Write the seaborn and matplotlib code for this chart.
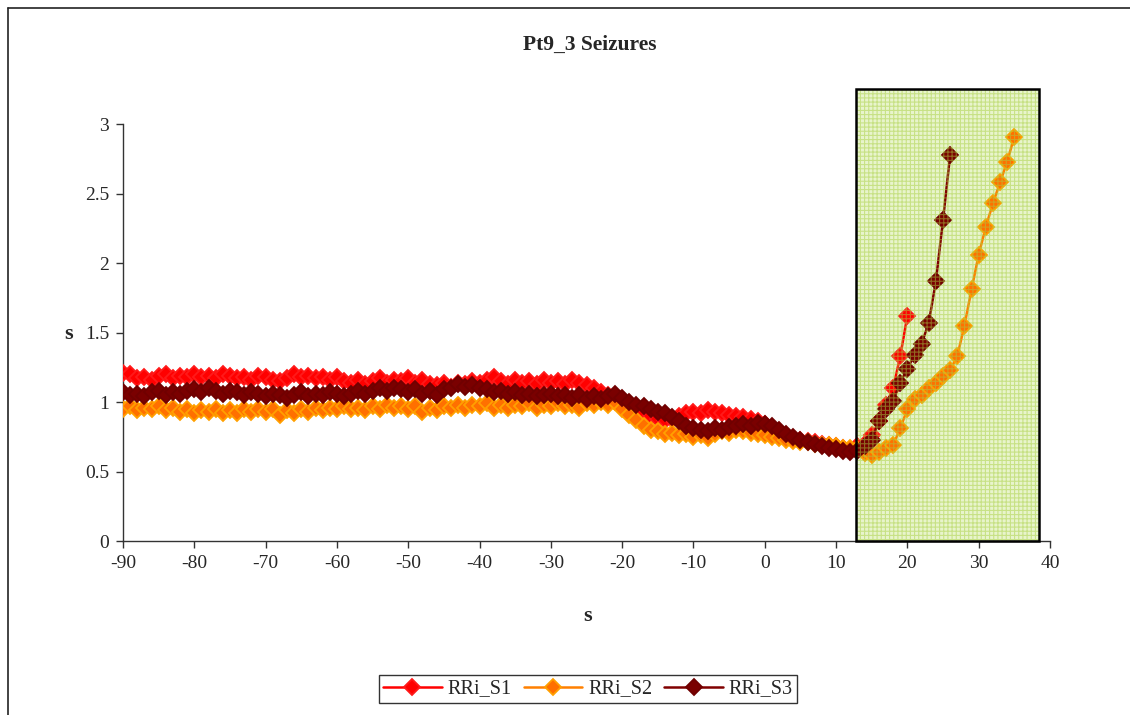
import numpy as np
import pandas as pd
import matplotlib
matplotlib.use("Agg")
import matplotlib.pyplot as plt
import seaborn as sns
from matplotlib.patches import Rectangle
from matplotlib.lines import Line2D

# ---------------- data ----------------
x_s1 = list(range(-90, 21))
rri_s1 = [
    1.21, 1.20, 1.17, 1.18, 1.16, 1.19, 1.20, 1.17, 1.19, 1.18,
    1.20, 1.18, 1.19, 1.17, 1.20, 1.19, 1.17, 1.18, 1.16, 1.19,
    1.18, 1.16, 1.15, 1.17, 1.20, 1.18, 1.19, 1.17, 1.18, 1.16,
    1.18, 1.15, 1.14, 1.16, 1.13, 1.15, 1.17, 1.14, 1.16, 1.15,
    1.17, 1.14, 1.16, 1.13, 1.12, 1.14, 1.11, 1.14, 1.13, 1.15,
    1.14, 1.16, 1.18, 1.15, 1.13, 1.16, 1.14, 1.15, 1.13, 1.16,
    1.14, 1.15, 1.13, 1.16, 1.14, 1.12, 1.10, 1.07, 1.05, 1.03,
    1.00, 0.97, 0.95, 0.92, 0.90, 0.88, 0.87, 0.88, 0.90, 0.92,
    0.93, 0.92, 0.94, 0.93, 0.92, 0.91, 0.90, 0.89, 0.88, 0.86,
    0.84, 0.81, 0.78, 0.76, 0.74, 0.73, 0.72, 0.71, 0.70, 0.69,
    0.68, 0.67, 0.66, 0.68, 0.70, 0.76, 0.86, 0.98, 1.10, 1.33, 1.62,
]

x_s2 = list(range(-90, 36))
rri_s2 = [
    0.95, 0.97, 0.94, 0.96, 0.95, 0.97, 0.94, 0.96, 0.93, 0.95,
    0.92, 0.94, 0.93, 0.95, 0.92, 0.94, 0.92, 0.95, 0.93, 0.95,
    0.93, 0.95, 0.91, 0.94, 0.92, 0.95, 0.93, 0.96, 0.94, 0.96,
    0.95, 0.97, 0.95, 0.96, 0.94, 0.97, 0.95, 0.98, 0.96, 0.97,
    0.95, 0.97, 0.93, 0.96, 0.94, 0.97, 0.96, 0.98, 0.96, 0.98,
    0.97, 0.99, 0.96, 0.98, 0.96, 0.98, 0.97, 0.99, 0.96, 0.98,
    0.97, 0.99, 0.97, 0.98, 0.96, 0.99, 0.98, 1.00, 0.98, 1.00,
    0.95, 0.91, 0.87, 0.83, 0.80, 0.79, 0.77, 0.78, 0.76, 0.77,
    0.75, 0.76, 0.74, 0.77, 0.79, 0.78, 0.80, 0.79, 0.78, 0.77,
    0.76, 0.75, 0.74, 0.73, 0.72, 0.71, 0.71, 0.70, 0.69, 0.69,
    0.68, 0.67, 0.67, 0.66, 0.63, 0.62, 0.64, 0.67, 0.69, 0.81,
    0.95, 1.02, 1.05, 1.10, 1.14, 1.19, 1.23, 1.33, 1.55, 1.81,
    2.06, 2.26, 2.43, 2.58, 2.73, 2.91,
]

x_s3 = list(range(-90, 27))
rri_s3 = [
    1.07, 1.05, 1.06, 1.04, 1.07, 1.08, 1.05, 1.07, 1.06, 1.08,
    1.09, 1.07, 1.10, 1.08, 1.06, 1.08, 1.07, 1.05, 1.07, 1.06,
    1.04, 1.06, 1.05, 1.03, 1.05, 1.07, 1.04, 1.06, 1.05, 1.07,
    1.06, 1.04, 1.06, 1.08, 1.06, 1.08, 1.10, 1.08, 1.10, 1.09,
    1.07, 1.09, 1.06, 1.08, 1.05, 1.09, 1.10, 1.13, 1.11, 1.12,
    1.10, 1.09, 1.07, 1.08, 1.06, 1.07, 1.05, 1.06, 1.04, 1.05,
    1.06, 1.04, 1.05, 1.03, 1.05, 1.02, 1.04, 1.02, 1.04, 1.06,
    1.03, 1.00, 0.98, 0.97, 0.95, 0.93, 0.92, 0.89, 0.86, 0.83,
    0.81, 0.80, 0.79, 0.81, 0.80, 0.82, 0.83, 0.84, 0.83, 0.85,
    0.84, 0.83, 0.80, 0.77, 0.75, 0.73, 0.71, 0.70, 0.68, 0.67,
    0.66, 0.65, 0.64, 0.65, 0.68, 0.73, 0.86, 0.95, 1.01, 1.14,
    1.24, 1.34, 1.42, 1.57, 1.87, 2.31, 2.78,
]

series_names = ["RRi_S1", "RRi_S2", "RRi_S3"]
x_ticks = [-90, -80, -70, -60, -50, -40, -30, -20, -10, 0, 10, 20, 30, 40]
y_ticks = [0, 0.5, 1, 1.5, 2, 2.5, 3]
y_tick_labels = ["0", "0.5", "1", "1.5", "2", "2.5", "3"]
title = "Pt9_3 Seizures"
x_label = "s"
y_label = "s"
highlight_x = (12.8, 38.4)
highlight_y_top = 3.25

# ---------------- styling ----------------
sns.set_style("white")
plt.rcParams["font.family"] = ["Liberation Serif", "DejaVu Serif"]
plt.rcParams["hatch.linewidth"] = 0.8

line_colors = ["#ff0000", "#ff8000", "#800000"]
face_colors = ["#ff0000", "#ff7000", "#7a0000"]
edge_colors = ["#ff1a1a", "#ffa000", "#700000"]

fig = plt.figure(figsize=(11.3, 7.15), dpi=100)
ax = fig.add_axes([123 / 1130, 1 - 541 / 715, (1050 - 123) / 1130, (541 - 124) / 715])

data = [(x_s1, rri_s1), (x_s2, rri_s2), (x_s3, rri_s3)]
for i, (xs, ys) in enumerate(data):
    df = pd.DataFrame({"t": xs, "v": ys})
    sns.lineplot(data=df, x="t", y="v", ax=ax, color=line_colors[i], lw=1.8,
                 marker="D", markersize=8, markerfacecolor=face_colors[i],
                 markeredgecolor=edge_colors[i], markeredgewidth=1.3,
                 zorder=3 + i)

# highlight rectangle: light fill behind, grid pattern over the lines
w = highlight_x[1] - highlight_x[0]
ax.add_patch(Rectangle((highlight_x[0], 0), w, highlight_y_top, facecolor="#e8f4cc",
                       lw=0, zorder=1, clip_on=False))
ax.add_patch(Rectangle((highlight_x[0], 0), w, highlight_y_top, facecolor="none",
                       edgecolor="#a8d040", hatch="++++", alpha=0.5, lw=0,
                       zorder=11, clip_on=False))
ax.add_patch(Rectangle((highlight_x[0], 0), w, highlight_y_top, facecolor="none",
                       edgecolor="black", lw=1.8, zorder=12, clip_on=False))

ax.set_xlim(-90, 40)
ax.set_ylim(0, 3)
ax.set_xticks(x_ticks)
ax.set_xticklabels([str(t) for t in x_ticks])
ax.set_yticks(y_ticks)
ax.set_yticklabels(y_tick_labels)
ax.tick_params(axis="both", direction="out", length=5, width=1, color="#333333",
               labelsize=14, pad=5, left=True, bottom=True)
for s in ["top", "right"]:
    ax.spines[s].set_visible(False)
for s in ["left", "bottom"]:
    ax.spines[s].set_color("#333333")
    ax.spines[s].set_linewidth(1)
ax.set_xlabel("")
ax.set_ylabel("")

fig.text(590 / 1130, 1 - 45 / 715, title, ha="center", va="center",
         fontsize=15.5, fontweight="bold")
fig.text(588 / 1130, 1 - 616 / 715, x_label, ha="center", va="center",
         fontsize=16, fontweight="bold")
fig.text(69 / 1130, 1 - 334 / 715, y_label, ha="center", va="center",
         fontsize=16, fontweight="bold")

handles = [Line2D([0], [0], color=line_colors[i], lw=1.8, marker="D", markersize=8,
                  markerfacecolor=face_colors[i], markeredgecolor=edge_colors[i],
                  markeredgewidth=1.3) for i in range(3)]
leg = fig.legend(handles, series_names, loc="center", bbox_to_anchor=(588 / 1130, 1 - 689 / 715),
                 ncol=3, frameon=True, fancybox=False, edgecolor="#333333",
                 fontsize=14.5, handlelength=2.9, columnspacing=0.6, handletextpad=0.3,
                 borderpad=0.2, framealpha=1)
leg.get_frame().set_linewidth(1)

# outer chart border
fig.add_artist(Line2D([8 / 1130, 8 / 1130], [0, 1 - 8 / 715], transform=fig.transFigure,
                      color="#222222", lw=1.2))
fig.add_artist(Line2D([8 / 1130, 1], [1 - 8 / 715, 1 - 8 / 715], transform=fig.transFigure,
                      color="#222222", lw=1.2))

fig.savefig("out.png", dpi=100, facecolor="white")
